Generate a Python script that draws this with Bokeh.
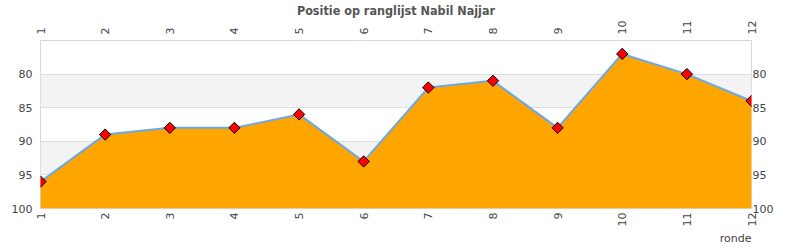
import math
from bokeh.plotting import figure
from bokeh.models import Range1d, LinearAxis, FixedTicker, Title
from bokeh.embed import file_html
from bokeh.resources import INLINE

rondes = [1, 2, 3, 4, 5, 6, 7, 8, 9, 10, 11, 12]
positie = [96, 89, 88, 88, 86, 93, 82, 81, 88, 77, 80, 84]
y_ticks = [80, 85, 90, 95, 100]
title_text = "Positie op ranglijst Nabil Najjar"
x_label = "ronde"

p = figure(width=790, height=250, output_backend="svg", toolbar_location=None,
           x_range=Range1d(1, 12), y_range=Range1d(100, 75),
           x_axis_location="below", y_axis_location="left",
           min_border_left=40, min_border_right=39, min_border_top=40, min_border_bottom=42)

bottom_axis = p.below[0]
left_axis = p.left[0]

p.title.text = title_text
p.title.align = "center"
p.title.text_font = "DejaVu Sans Condensed"
p.title.text_font_size = "12.5px"
p.title.text_font_style = "bold"
p.title.text_color = "#555555"
p.title.standoff = 0
p.title.offset = 0

p.outline_line_color = "#d8d8d8"
p.background_fill_color = "white"
p.xgrid.visible = False
p.ygrid.ticker = FixedTicker(ticks=y_ticks)
p.ygrid.grid_line_color = "#dddddd"
p.ygrid.band_fill_color = "#f3f3f3"
p.ygrid.band_fill_alpha = 1.0

top_axis = LinearAxis()
right_axis = LinearAxis()
p.add_layout(top_axis, "above")
p.add_layout(right_axis, "right")

for ax in (bottom_axis, top_axis):
    ax.ticker = FixedTicker(ticks=rondes)
    ax.major_label_orientation = math.pi / 2
for ax in (left_axis, right_axis):
    ax.ticker = FixedTicker(ticks=y_ticks)
for ax in (bottom_axis, top_axis, left_axis, right_axis):
    ax.axis_line_color = None
    ax.major_tick_line_color = None
    ax.minor_tick_line_color = None
    ax.major_tick_out = 0
    ax.major_tick_in = 0
    ax.minor_tick_out = 0
    ax.minor_tick_in = 0
    ax.major_label_text_font = "DejaVu Sans"
    ax.major_label_text_font_size = "11px"
    ax.major_label_text_color = "#444444"
top_axis.major_label_standoff = 6
right_axis.major_label_standoff = 1
left_axis.major_label_standoff = 8
bottom_axis.major_label_standoff = 4

p.varea(x=rondes, y1=positie, y2=[100] * len(rondes), fill_color="#FFA500")
p.line(rondes, positie, line_color="#6aa8e8", line_width=2)
p.scatter(rondes, positie, marker="square", angle=math.pi / 4, size=8,
          fill_color="#ff0000", line_color="black", line_width=1)

p.add_layout(Title(text=x_label, align="right", text_font="DejaVu Sans",
                   text_font_size="11px", text_font_style="normal",
                   text_color="#444444", standoff=0), "below")

open("out.html", "w").write(file_html(p, INLINE))
